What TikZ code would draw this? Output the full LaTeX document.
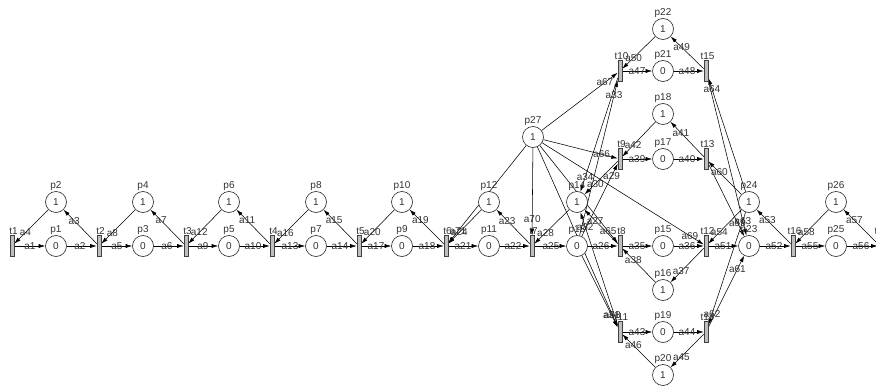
\documentclass[tikz,border=0pt]{standalone}
\usepackage{fontspec}
\setmainfont{Liberation Sans}
\usetikzlibrary{arrows.meta,calc}
\pgfdeclarelayer{bg}
\pgfsetlayers{bg,main}
\newcommand\lf{\fontsize{10}{12}\selectfont}
\newcommand\arcpt[4][19pt]{\draw[arc] (#2) -- (#3) node[lab, at={($(#3)!#1!(#2)$)}] {#4};}
\newcommand\arctp[4][26pt]{\draw[arc] (#2) -- (#3) node[lab, at={($(#3)!#1!(#2)$)}] {#4};}
\newcommand\mkpl[4]{\node[place, label={[lab]90:#1}] (#1) at (#2,#3) {#4};}
\newcommand\mktr[3]{\node[trans, label={[lab, xshift=1.5pt]90:#1}] (#1) at (#2,#3) {};}
\tikzset{
  place/.style={circle, draw=black!85, line width=0.6pt, fill=white, minimum size=21pt, inner sep=0pt, font=\lf, text=black!80},
  trans/.style={rectangle, draw=black!75, line width=0.6pt, fill=black!25, minimum width=4pt, minimum height=21pt, inner sep=0pt},
  arc/.style={-{Latex[length=6.5pt,width=4pt]}, line width=0.55pt, black},
  lab/.style={font=\lf, text=black!80, inner sep=0pt, label distance=0.5pt},
}
\begin{document}
\begin{tikzpicture}[x=1pt, y=-1pt]
\useasboundingbox (0,0) rectangle (876,388);
% places
\mkpl{p1}{56}{246}{0}  \mkpl{p2}{56}{202}{1}
\mkpl{p3}{143}{246}{0} \mkpl{p4}{143}{202}{1}
\mkpl{p5}{229}{246}{0} \mkpl{p6}{229}{202}{1}
\mkpl{p7}{316}{246}{0} \mkpl{p8}{316}{202}{1}
\mkpl{p9}{402}{246}{0} \mkpl{p10}{402}{202}{1}
\mkpl{p11}{489}{246}{0} \mkpl{p12}{489}{202}{1}
\mkpl{p13}{577}{246}{0} \mkpl{p14}{577}{202}{1}
\mkpl{p15}{663}{246}{0} \mkpl{p16}{663}{290}{1}
\mkpl{p17}{663}{159}{0} \mkpl{p18}{663}{114}{1}
\mkpl{p19}{663}{332}{0} \mkpl{p20}{663}{375}{1}
\mkpl{p21}{663}{71}{0}  \mkpl{p22}{663}{29}{1}
\mkpl{p23}{749}{246}{0} \mkpl{p24}{749}{202}{1}
\mkpl{p25}{836}{246}{0} \mkpl{p26}{836}{202}{1}
\mkpl{p27}{533}{137}{1}
% transitions
\mktr{t1}{12}{246} \mktr{t2}{99}{246} \mktr{t3}{186}{246} \mktr{t4}{272}{246}
\mktr{t5}{359}{246} \mktr{t6}{446}{246} \mktr{t7}{532}{246} \mktr{t8}{620}{246}
\mktr{t9}{620}{159} \mktr{t10}{620}{71} \mktr{t11}{620}{332}
\mktr{t12}{706}{246} \mktr{t13}{706}{159} \mktr{t14}{706}{332} \mktr{t15}{706}{71}
\mktr{t16}{793}{246} \mktr{t17}{880}{246}
\begin{pgfonlayer}{bg}
\fill[white] (0,0) rectangle (876,388);
\arctp{t1}{p1}{a1} \arcpt{p1}{t2}{a2} \arctp{t2}{p2}{a3} \arcpt{p2}{t1}{a4}
\arctp{t2}{p3}{a5} \arcpt{p3}{t3}{a6} \arctp{t3}{p4}{a7} \arcpt{p4}{t2}{a8}
\arctp{t3}{p5}{a9} \arcpt{p5}{t4}{a10} \arctp{t4}{p6}{a11} \arcpt{p6}{t3}{a12}
\arctp{t4}{p7}{a13} \arcpt{p7}{t5}{a14} \arctp{t5}{p8}{a15} \arcpt{p8}{t4}{a16}
\arctp{t5}{p9}{a17} \arcpt{p9}{t6}{a18} \arctp{t6}{p10}{a19} \arcpt{p10}{t5}{a20}
\arctp{t6}{p11}{a21} \arcpt{p11}{t7}{a22} \arctp{t7}{p12}{a23} \arcpt{p12}{t6}{a24}
\arctp{t7}{p13}{a25} \arcpt{p13}{t8}{a26} \arctp{t8}{p14}{a27} \arcpt{p14}{t7}{a28}
\arcpt{p13}{t9}{a29} \arctp{t9}{p14}{a30} \arcpt{p13}{t11}{a31} \arctp{t11}{p14}{a32}
\arcpt[25pt]{p13}{t10}{a33} \arctp{t10}{p14}{a34}
\arctp{t8}{p15}{a35} \arcpt{p15}{t12}{a36} \arctp{t12}{p16}{a37} \arcpt{p16}{t8}{a38}
\arctp{t9}{p17}{a39} \arcpt{p17}{t13}{a40} \arctp{t13}{p18}{a41} \arcpt{p18}{t9}{a42}
\arctp{t11}{p19}{a43} \arcpt{p19}{t14}{a44} \arctp{t14}{p20}{a45} \arcpt{p20}{t11}{a46}
\arctp{t10}{p21}{a47} \arcpt{p21}{t15}{a48} \arctp{t15}{p22}{a49} \arcpt{p22}{t10}{a50}
\arctp{t12}{p23}{a51} \arcpt{p23}{t16}{a52} \arctp{t16}{p24}{a53} \arcpt{p24}{t12}{a54}
\arctp{t16}{p25}{a55} \arcpt{p25}{t17}{a56} \arctp{t17}{p26}{a57} \arcpt{p26}{t16}{a58}
\arctp{t13}{p23}{a59} \arcpt{p24}{t13}{a60} \arctp{t14}{p23}{a61} \arcpt{p24}{t14}{a62}
\arctp{t15}{p23}{a63} \arcpt{p24}{t15}{a64}
\arcpt{p27}{t8}{a65} \arcpt{p27}{t9}{a66} \arcpt{p27}{t10}{a67} \arcpt{p27}{t11}{a68}
\arcpt{p27}{t12}{a69} \arcpt[27pt]{p27}{t7}{a70} \arcpt{p27}{t6}{a71}
\end{pgfonlayer}
\end{tikzpicture}
\end{document}
